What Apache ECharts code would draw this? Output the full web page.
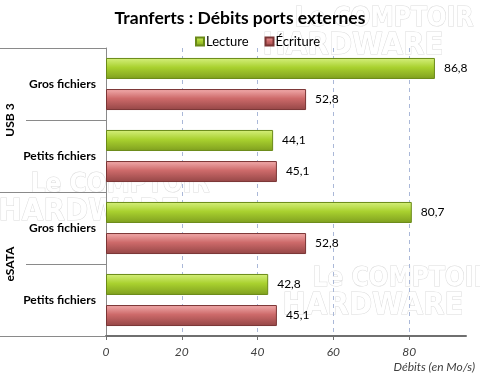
<!DOCTYPE html>
<html>
<head>
<meta charset="utf-8">
<script src="https://cdn.jsdelivr.net/npm/echarts@6/dist/echarts.min.js"></script>
<style>
  html, body { margin: 0; padding: 0; background: #fff; }
  #main { width: 480px; height: 378px; }
</style>
</head>
<body>
<div id="main"></div>
<script>
// donnees
var groupes = ["USB 3", "eSATA"];
var categories = ["Gros fichiers", "Petits fichiers", "Gros fichiers", "Petits fichiers"];
var lecture = [86.8, 44.1, 80.7, 42.8];
var ecriture = [52.8, 45.1, 52.8, 45.1];
var xTicks = [0, 20, 40, 60, 80];

var police = "Lato";

function degrade(c1, c2, c3) {
  return new echarts.graphic.LinearGradient(0, 0, 0, 1, [
    { offset: 0, color: c1 },
    { offset: 0.45, color: c2 },
    { offset: 1, color: c3 }
  ]);
}

// filigrane
function filigrane(x, y, w) {
  return {
    type: "group", left: x, top: y, z: -10, silent: true,
    children: [
      { type: "text", x: w * 0.2, y: 0, style: { text: "Le COMPTOIR", font: "bold 26px 'DejaVu Sans Condensed'", fill: "#fff", stroke: "#dcdcdc", lineWidth: 1 } },
      { type: "text", x: 0, y: 24, style: { text: "HARDWARE", font: "bold 31px 'DejaVu Sans Condensed'", fill: "#fff", stroke: "#dcdcdc", lineWidth: 1 } }
    ]
  };
}

var myChart = echarts.init(document.getElementById("main"));

myChart.setOption({
  animation: false,
  textStyle: { fontFamily: police },
  title: {
    text: "Tranferts : Débits ports externes",
    left: "center",
    top: 4,
    textStyle: { fontSize: 17.5, fontWeight: "bold", color: "#000", fontFamily: police }
  },
  legend: {
    top: 30,
    left: 190,
    icon: "rect",
    itemWidth: 8,
    itemHeight: 8,
    itemGap: 16,
    textStyle: { fontSize: 13, color: "#000", fontFamily: police, padding: [0, 0, 0, -3] },
    data: ["Lecture", "Écriture"]
  },
  graphic: [filigrane(262, 6, 160), filigrane(-2, 172, 160), filigrane(282, 266, 150)],
  grid: { left: 106, right: 14, top: 48, bottom: 42 },
  xAxis: {
    type: "value",
    min: 0,
    max: 95,
    interval: 20,
    name: "Débits (en Mo/s)",
    nameLocation: "end",
    nameGap: 9,
    nameTextStyle: { fontStyle: "italic", fontSize: 12, color: "#404040", align: "right", verticalAlign: "top", padding: [25, 0, 0, 0] },
    axisLine: { show: true, lineStyle: { color: "#6f6f6f", width: 2 } },
    axisTick: { show: true, length: 4, lineStyle: { color: "#6f6f6f" } },
    axisLabel: {
      margin: 10,
      fontStyle: "italic",
      fontSize: 12,
      color: "#404040",
      showMaxLabel: false,
      formatter: function (v) { return xTicks.indexOf(v) >= 0 ? String(v) : ""; }
    },
    splitLine: { show: true, showMinLine: false, showMaxLine: false, lineStyle: { type: [4, 4], color: "#aab8d8" } }
  },
  yAxis: [
    {
      type: "category",
      inverse: true,
      data: categories,
      axisLine: { show: true, lineStyle: { color: "#8a8a8a" } },
      axisTick: { show: true, length: 80, lineStyle: { color: "#8a8a8a" } },
      axisLabel: { margin: 10, fontSize: 12, fontWeight: "bold", color: "#000", fontFamily: police }
    },
    {
      type: "category",
      inverse: true,
      position: "left",
      data: groupes,
      axisLine: { show: false },
      axisTick: { show: true, length: 106, lineStyle: { color: "#8a8a8a" } },
      axisLabel: { rotate: 90, margin: 90, fontSize: 12, fontWeight: "bold", color: "#000", fontFamily: police },
      splitLine: { show: false }
    }
  ],
  series: [
    {
      name: "Lecture",
      type: "bar",
      yAxisIndex: 0,
      data: lecture,
      barWidth: 21,
      barGap: "48%",
      itemStyle: {
        color: degrade("#d6f07e", "#a9d12f", "#7f9f1f"),
        borderColor: "#6a8a18",
        borderWidth: 1
      },
      label: {
        show: true,
        position: "right",
        distance: 9,
        fontSize: 12,
        color: "#000",
        fontFamily: police,
        formatter: function (p) { return String(p.value).replace(".", ","); }
      }
    },
    {
      name: "Écriture",
      type: "bar",
      yAxisIndex: 0,
      data: ecriture,
      barWidth: 21,
      barGap: "48%",
      itemStyle: {
        color: degrade("#f2adad", "#cd6a6a", "#944646"),
        borderColor: "#7a3535",
        borderWidth: 1
      },
      label: {
        show: true,
        position: "right",
        distance: 9,
        fontSize: 12,
        color: "#000",
        fontFamily: police,
        formatter: function (p) { return String(p.value).replace(".", ","); }
      }
    }
  ]
});
</script>
</body>
</html>
